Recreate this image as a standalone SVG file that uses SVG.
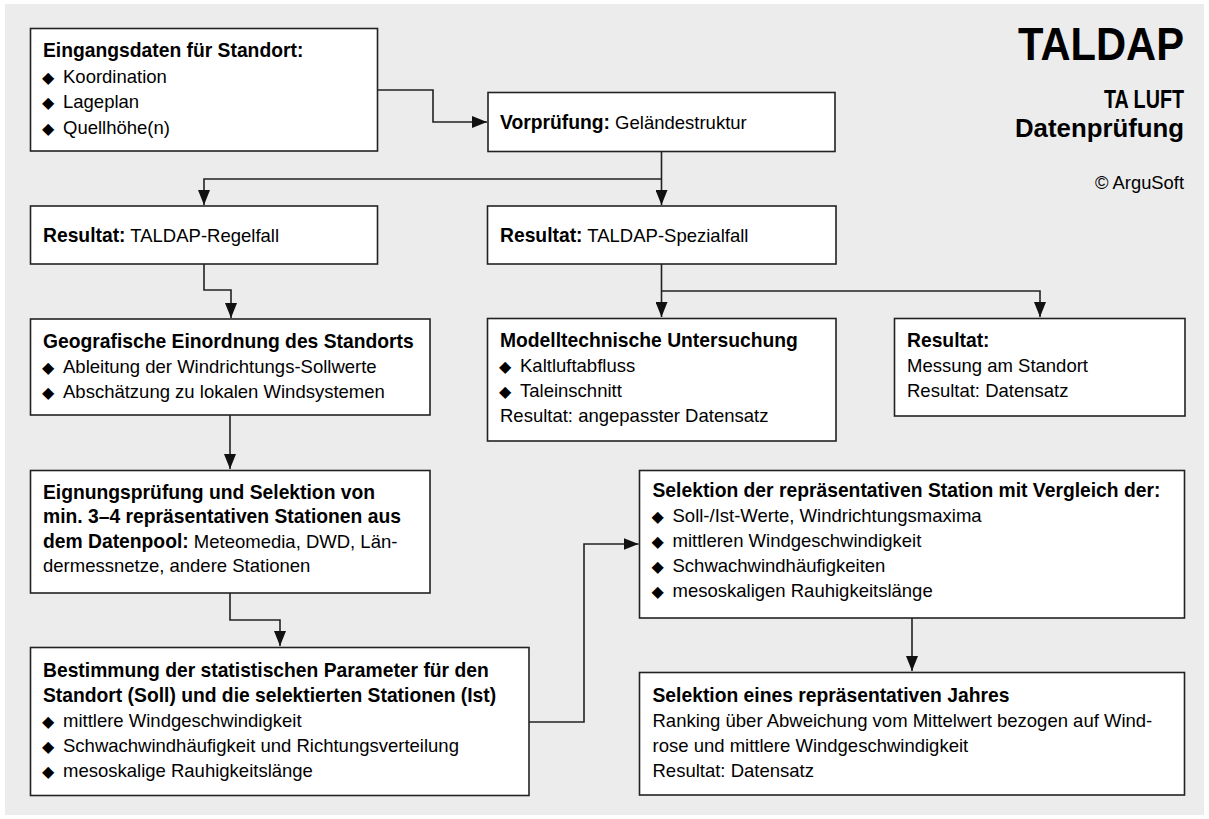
<svg xmlns="http://www.w3.org/2000/svg" width="1209" height="819" viewBox="0 0 1209 819">
<defs>
<style>
.bg{fill:#ececec}
.box{fill:#ffffff;stroke:#222;stroke-width:1.6}
.t{font-family:"Liberation Sans",Arial,sans-serif;font-size:18.5px;fill:#000}
.b{font-weight:bold;font-size:19.3px}
.d{font-family:"DejaVu Sans",sans-serif;font-size:16px;fill:#000}
.h{font-family:"Liberation Sans",Arial,sans-serif;font-weight:bold;fill:#000}
.c{fill:none;stroke:#222;stroke-width:1.6}
</style>
<marker id="ah" viewBox="0 0 15 12" refX="15" refY="6" markerWidth="15" markerHeight="12" markerUnits="userSpaceOnUse" orient="auto">
<path d="M0,0 L15,6 L0,12 Z" fill="#111"/>
</marker>
</defs>
<rect class="bg" x="5" y="4" width="1199" height="811"/>

<g id="title">
<text class="h" x="1184" y="60" font-size="47" text-anchor="end" textLength="166" lengthAdjust="spacingAndGlyphs">TALDAP</text>
<text class="h" x="1184" y="108" font-size="25" text-anchor="end" textLength="80" lengthAdjust="spacingAndGlyphs">TA LUFT</text>
<text class="h" x="1184" y="137" font-size="25" text-anchor="end" textLength="169" lengthAdjust="spacingAndGlyphs">Datenprüfung</text>
<text class="t" x="1184" y="189" text-anchor="end" style="font-size:18px" textLength="89" lengthAdjust="spacingAndGlyphs">© ArguSoft</text>
</g>

<g id="connectors">
<polyline class="c" points="378,90 433,90 433,122 487,122" marker-end="url(#ah)"/>
<polyline class="c" points="661.5,152 661.5,205" marker-end="url(#ah)"/>
<polyline class="c" points="661.5,179 204,179 204,205" marker-end="url(#ah)"/>
<polyline class="c" points="204,264 204,290 231,290 231,318" marker-end="url(#ah)"/>
<polyline class="c" points="661.5,264 661.5,317" marker-end="url(#ah)"/>
<polyline class="c" points="661.5,291 1040,291 1040,317" marker-end="url(#ah)"/>
<polyline class="c" points="230,415 230,469" marker-end="url(#ah)"/>
<polyline class="c" points="230,593 230,620 280,620 280,646" marker-end="url(#ah)"/>
<polyline class="c" points="529,722 584,722 584,544 638.5,544" marker-end="url(#ah)"/>
<polyline class="c" points="912,618 912,671" marker-end="url(#ah)"/>
</g>

<g id="n1">
<rect class="box" x="30.5" y="28.5" width="347" height="122.5"/>
<text class="t b" x="43" y="57">Eingangsdaten für Standort:</text>
<text class="d" x="42" y="82.5">◆</text><text class="t" x="63" y="82.5">Koordination</text>
<text class="d" x="42" y="108">◆</text><text class="t" x="63" y="108">Lageplan</text>
<text class="d" x="42" y="133.5">◆</text><text class="t" x="63" y="133.5">Quellhöhe(n)</text>
</g>

<g id="n2">
<rect class="box" x="488" y="92.5" width="347" height="59"/>
<text class="t" x="500" y="128.5"><tspan class="b">Vorprüfung:</tspan> Geländestruktur</text>
</g>

<g id="n3">
<rect class="box" x="30.5" y="206" width="347" height="58"/>
<text class="t" x="43" y="242"><tspan class="b">Resultat:</tspan> TALDAP-Regelfall</text>
</g>

<g id="n4">
<rect class="box" x="487.5" y="206" width="348.5" height="58"/>
<text class="t" x="500" y="242"><tspan class="b">Resultat:</tspan> TALDAP-Spezialfall</text>
</g>

<g id="n5">
<rect class="box" x="30.5" y="319" width="399.5" height="96"/>
<text class="t b" x="43" y="348">Geografische Einordnung des Standorts</text>
<text class="d" x="42" y="373">◆</text><text class="t" x="63" y="373">Ableitung der Windrichtungs-Sollwerte</text>
<text class="d" x="42" y="398">◆</text><text class="t" x="63" y="398">Abschätzung zu lokalen Windsystemen</text>
</g>

<g id="n6">
<rect class="box" x="487.5" y="318.5" width="348.5" height="122.5"/>
<text class="t b" x="500" y="347">Modelltechnische Untersuchung</text>
<text class="d" x="499" y="372">◆</text><text class="t" x="520" y="372">Kaltluftabfluss</text>
<text class="d" x="499" y="397">◆</text><text class="t" x="520" y="397">Taleinschnitt</text>
<text class="t" x="500" y="422">Resultat: angepasster Datensatz</text>
</g>

<g id="n7">
<rect class="box" x="894.5" y="318.5" width="290.5" height="97.5"/>
<text class="t b" x="907" y="347">Resultat:</text>
<text class="t" x="907" y="372">Messung am Standort</text>
<text class="t" x="907" y="397">Resultat: Datensatz</text>
</g>

<g id="n8">
<rect class="box" x="30.5" y="470.5" width="399.5" height="122.5"/>
<text class="t b" x="43" y="498.5">Eignungsprüfung und Selektion von</text>
<text class="t b" x="43" y="523">min. 3–4 repräsentativen Stationen aus</text>
<text class="t" x="43" y="547.5"><tspan class="b">dem Datenpool:</tspan> Meteomedia, DWD, Län-</text>
<text class="t" x="43" y="572">dermessnetze, andere Stationen</text>
</g>

<g id="n9">
<rect class="box" x="30.5" y="647.5" width="498.5" height="148"/>
<text class="t b" x="43" y="677">Bestimmung der statistischen Parameter für den</text>
<text class="t b" x="43" y="702">Standort (Soll) und die selektierten Stationen (Ist)</text>
<text class="d" x="42" y="727">◆</text><text class="t" x="63" y="727">mittlere Windgeschwindigkeit</text>
<text class="d" x="42" y="752">◆</text><text class="t" x="63" y="752">Schwachwindhäufigkeit und Richtungsverteilung</text>
<text class="d" x="42" y="777">◆</text><text class="t" x="63" y="777">mesoskalige Rauhigkeitslänge</text>
</g>

<g id="n10">
<rect class="box" x="639.5" y="470.5" width="545" height="147.5"/>
<text class="t b" x="652.5" y="497">Selektion der repräsentativen Station mit Vergleich der:</text>
<text class="d" x="651.5" y="522">◆</text><text class="t" x="672.5" y="522">Soll-/Ist-Werte, Windrichtungsmaxima</text>
<text class="d" x="651.5" y="547">◆</text><text class="t" x="672.5" y="547">mittleren Windgeschwindigkeit</text>
<text class="d" x="651.5" y="572">◆</text><text class="t" x="672.5" y="572">Schwachwindhäufigkeiten</text>
<text class="d" x="651.5" y="597">◆</text><text class="t" x="672.5" y="597">mesoskaligen Rauhigkeitslänge</text>
</g>

<g id="n11">
<rect class="box" x="639.5" y="672.5" width="545" height="122.5"/>
<text class="t b" x="652.5" y="702">Selektion eines repräsentativen Jahres</text>
<text class="t" x="652.5" y="727">Ranking über Abweichung vom Mittelwert bezogen auf Wind-</text>
<text class="t" x="652.5" y="752">rose und mittlere Windgeschwindigkeit</text>
<text class="t" x="652.5" y="777">Resultat: Datensatz</text>
</g>
</svg>
